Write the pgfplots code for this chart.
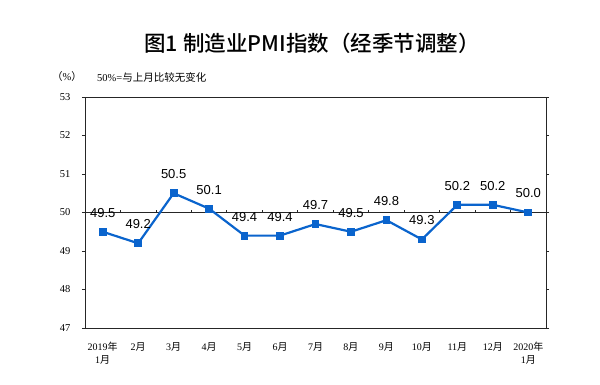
\documentclass[border=0pt]{standalone}
\usepackage{pgfplots}
\pgfplotsset{compat=1.18}
\usepackage{fontspec}
\setmainfont{Liberation Serif}
\newfontfamily\cjk{Noto Sans CJK SC}
\newfontfamily\cjkm{Noto Sans CJK SC Medium}
\newfontfamily\arial{Liberation Sans}
\definecolor{pmiblue}{RGB}{10,100,205}
\begin{document}
\begin{tikzpicture}
\useasboundingbox (0,0) rectangle (600bp,385bp);
\node at (312bp,342bp) {\cjkm\fontsize{21.5bp}{21.5bp}\selectfont 图1\ 制造业PMI指数（经季节调整）};
\node at (67bp,308bp) {\cjk\fontsize{10.5bp}{10.5bp}\selectfont （{\rmfamily\%}）};
\node[anchor=west,inner sep=0pt] at (97bp,308bp) {\fontsize{10.5bp}{10.5bp}\selectfont 50\%={\cjk 与上月比较无变化}};
\begin{axis}[
  at={(85bp,57bp)}, anchor=south west,
  width=461bp, height=231bp, scale only axis,
  xmin=-0.5, xmax=12.5, ymin=47, ymax=53,
  ytick={47,48,...,53},
  xtick={0,...,12},
  xticklabels={{2019{\cjk 年}\\1{\cjk 月}},2{\cjk 月},3{\cjk 月},4{\cjk 月},5{\cjk 月},6{\cjk 月},7{\cjk 月},8{\cjk 月},9{\cjk 月},10{\cjk 月},11{\cjk 月},12{\cjk 月},{2020{\cjk 年}\\1{\cjk 月}}},
  xticklabel style={align=center, font=\fontsize{10bp}{13bp}\selectfont, yshift=-8bp},
  yticklabel style={font=\fontsize{10.5bp}{10.5bp}\selectfont, xshift=-8bp},
  /pgf/number format/assume math mode=true,
  x tick style={draw=none},
  y tick style={black!85, line width=0.8bp},
  tick align=outside,
  major tick length=3bp,
  axis line style={black!85, line width=0.8bp},
  clip=false,
  nodes near coords={\pgfmathprintnumber[fixed,fixed zerofill,precision=1]{\pgfplotspointmeta}},
  every node near coord/.append style={font=\arial\fontsize{13bp}{13bp}\selectfont, anchor=center, yshift=19bp, text=black},
]
\draw[black!85, line width=0.8bp] (axis cs:-0.5,50) -- (axis cs:12.5,50);
\pgfplotsinvokeforeach{0.5,1.5,2.5,3.5,4.5,5.5,6.5,7.5,8.5,9.5,10.5,11.5}{
  \draw[black!85, line width=0.8bp] (axis cs:#1,50) -- ([yshift=3bp]axis cs:#1,50);
}
\addplot[color=pmiblue, line width=2.2bp, mark=square*, mark size=2.8bp, mark options={fill=pmiblue, draw=pmiblue}] coordinates {
(0,49.5) (1,49.2) (2,50.5) (3,50.1) (4,49.4) (5,49.4) (6,49.7) (7,49.5) (8,49.8) (9,49.3) (10,50.2) (11,50.2) (12,50.0)
};
\end{axis}
\end{tikzpicture}
\end{document}
